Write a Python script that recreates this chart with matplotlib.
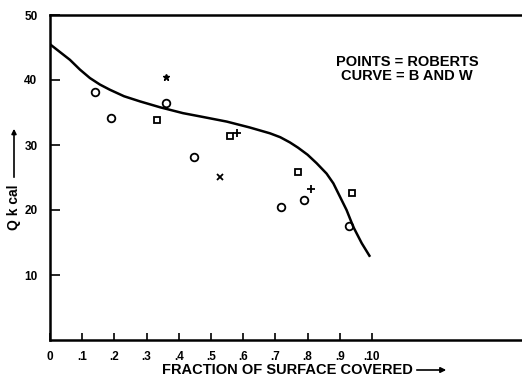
import matplotlib
matplotlib.use("Agg")
import matplotlib.pyplot as plt
from matplotlib.patches import FancyArrowPatch

# Curve (B and W)
curve_x = [0.0, 0.031, 0.062, 0.093, 0.124, 0.155, 0.186, 0.23, 0.28, 0.342, 0.413, 0.466,
           0.549, 0.62, 0.683, 0.715, 0.745, 0.770, 0.800, 0.828, 0.859, 0.880, 0.901, 0.921,
           0.942, 0.968, 0.994]
curve_q = [45.5, 44.3, 43.1, 41.6, 40.3, 39.3, 38.5, 37.5, 36.7, 35.8, 34.9, 34.4,
           33.6, 32.7, 31.8, 31.2, 30.4, 29.6, 28.5, 27.2, 25.6, 24.1, 22.0, 20.0,
           17.4, 14.9, 12.8]

# Points (Roberts)
circ_x = [0.140, 0.188, 0.360, 0.448, 0.717, 0.790, 0.929]
circ_q = [38.2, 34.1, 36.5, 28.2, 20.4, 21.5, 17.6]
sq_x = [0.333, 0.559, 0.771, 0.939]
sq_q = [33.9, 31.4, 25.9, 22.6]
plus_x = [0.582, 0.810]
plus_q = [31.9, 23.2]
cross_x = [0.529]
cross_q = [25.1]
star_x = [0.360]
star_q = [40.5]

xticks = [0, 0.1, 0.2, 0.3, 0.4, 0.5, 0.6, 0.7, 0.8, 0.9, 1.0]
xticklabels = ["0", ".1", ".2", ".3", ".4", ".5", ".6", ".7", ".8", ".9", ".10"]
yticks = [10, 20, 30, 40, 50]
yticklabels = ["10", "20", "30", "40", "50"]

plt.rcParams['font.family'] = ['Liberation Sans', 'DejaVu Sans']
plt.rcParams['font.weight'] = 'bold'

fig = plt.figure(figsize=(5.22, 3.77), dpi=100)
ax = fig.add_axes([50/522, 37/377, 1 - 50/522, (340-15)/377])
ax.set_xlim(0, 472/322)
ax.set_ylim(0, 50)

ax.plot(curve_x, curve_q, color='black', lw=1.8, solid_capstyle='butt', solid_joinstyle='round')
ms = 5.5
ax.plot(circ_x, circ_q, 'o', mfc='none', mec='black', ms=ms, mew=1.3, ls='none')
ax.plot(sq_x, sq_q, 's', mfc='none', mec='black', ms=ms-0.8, mew=1.3, ls='none')
ax.plot(plus_x, plus_q, '+', color='black', ms=5.5, mew=1.3, ls='none')
ax.plot(cross_x, cross_q, 'x', color='black', ms=4, mew=1.3, ls='none')
ax.plot(star_x, star_q, '*', color='black', ms=5, ls='none')

for s in ['left', 'bottom', 'top']:
    ax.spines[s].set_linewidth(1.8)
ax.spines['right'].set_visible(False)

ax.set_xticks(xticks)
ax.set_xticklabels(xticklabels)
ax.set_yticks(yticks)
ax.set_yticklabels(yticklabels)
ax.tick_params(axis='x', direction='in', length=5, width=1.2, pad=8, labelsize=8.5, top=False)
ax.tick_params(axis='y', direction='in', length=7, width=1.2, pad=9, labelsize=8.5, right=False)
for lbl in ax.get_xticklabels() + ax.get_yticklabels():
    lbl.set_fontweight('bold')

fig.text(162/522, 1 - 370/377, "FRACTION OF SURFACE COVERED", fontsize=10.5, fontweight='bold',
         ha='left', va='center')
fig.add_artist(FancyArrowPatch((414/522, 1 - 370/377), (449/522, 1 - 370/377),
               transform=fig.transFigure, arrowstyle='-|>', mutation_scale=8, color='black', lw=1.2))

fig.text(14/522, 1 - 207/377, "Q k cal", fontsize=10, fontweight='bold', rotation=90,
         ha='center', va='center')
fig.add_artist(FancyArrowPatch((14/522, 1 - 180/377), (14/522, 1 - 126/377),
               transform=fig.transFigure, arrowstyle='-|>', mutation_scale=7, color='black', lw=1.2))

ax.text((407-50)/472, 0.835, "POINTS = ROBERTS\nCURVE = B AND W", transform=ax.transAxes,
        fontsize=10.5, fontweight='bold', ha='center', va='center', linespacing=1.0)

fig.savefig("out.png", dpi=100)
